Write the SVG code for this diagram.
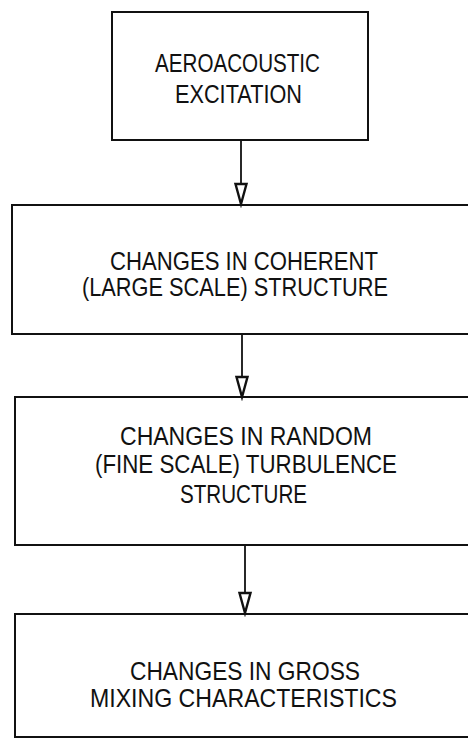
<svg xmlns="http://www.w3.org/2000/svg" width="468" height="739" viewBox="0 0 468 739">
<style>
.box{fill:none;stroke:#111;stroke-width:2}
.lbl{font-family:"Liberation Sans",Arial,sans-serif;font-size:25.5px;fill:#111}
.conn{stroke:#111;stroke-width:1.8;fill:none;marker-end:url(#arr)}
</style>
<defs>
<marker id="arr" markerUnits="userSpaceOnUse" viewBox="-24 -9 28 18" refX="0" refY="0" markerWidth="28" markerHeight="18" orient="auto">
<path d="M-20,-5.5 L-20,5.5 L0,0 Z" fill="#fff" stroke="#111" stroke-width="2.4" stroke-linejoin="miter"/>
</marker>
</defs>
<rect width="468" height="739" fill="#fff"/>
<g id="connectors">
<path class="conn" d="M241,140 L241,204"/>
<path class="conn" d="M242,334 L242,397"/>
<path class="conn" d="M245,545 L245,613"/>
</g>
<g id="node1">
<rect class="box" x="112" y="12" width="256" height="128"/>
<text class="lbl" x="155" y="72" textLength="165" lengthAdjust="spacingAndGlyphs">AEROACOUSTIC</text>
<text class="lbl" x="175" y="103" textLength="127" lengthAdjust="spacingAndGlyphs">EXCITATION</text>
</g>
<g id="node2">
<rect class="box" x="12" y="205" width="470" height="129"/>
<text class="lbl" x="110" y="270" textLength="268" lengthAdjust="spacingAndGlyphs">CHANGES IN COHERENT</text>
<text class="lbl" x="82" y="296" textLength="306" lengthAdjust="spacingAndGlyphs">(LARGE SCALE) STRUCTURE</text>
</g>
<g id="node3">
<rect class="box" x="15" y="397" width="467" height="148"/>
<text class="lbl" x="120" y="445" textLength="252" lengthAdjust="spacingAndGlyphs">CHANGES IN RANDOM</text>
<text class="lbl" x="95" y="473" textLength="302" lengthAdjust="spacingAndGlyphs">(FINE SCALE) TURBULENCE</text>
<text class="lbl" x="180" y="503" textLength="127" lengthAdjust="spacingAndGlyphs">STRUCTURE</text>
</g>
<g id="node4">
<rect class="box" x="15" y="614" width="467" height="123"/>
<text class="lbl" x="130" y="680" textLength="230" lengthAdjust="spacingAndGlyphs">CHANGES IN GROSS</text>
<text class="lbl" x="90" y="707" textLength="307" lengthAdjust="spacingAndGlyphs">MIXING CHARACTERISTICS</text>
</g>
</svg>
